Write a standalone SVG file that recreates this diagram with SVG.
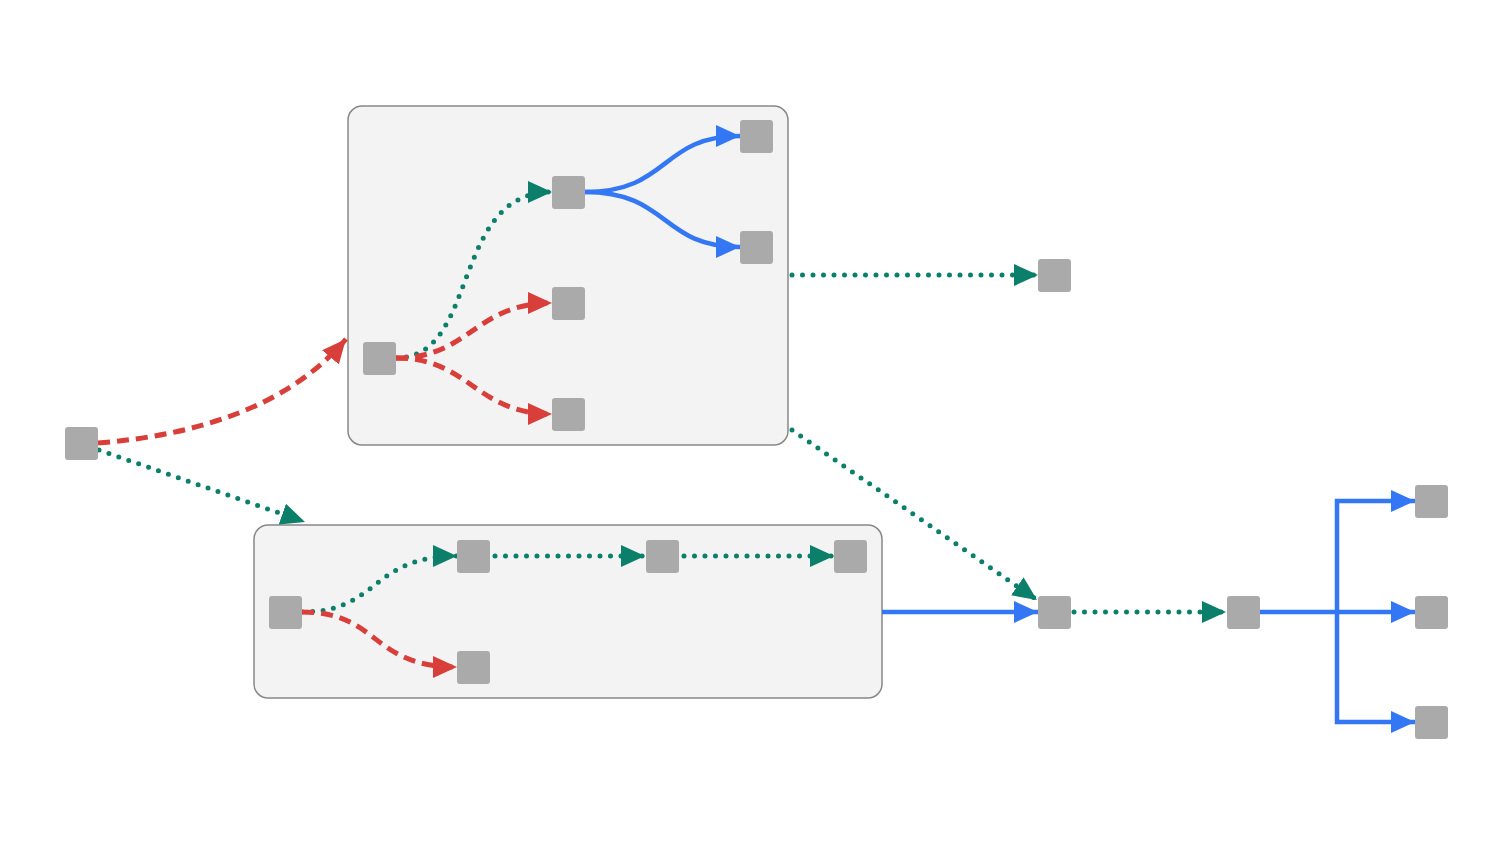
<svg xmlns="http://www.w3.org/2000/svg" width="1500" height="848" viewBox="0 0 1500 848">
<style>
.box{fill:#f3f3f3;stroke:#888;stroke-width:1.5}
.n{fill:#aaa}
.red{fill:none;stroke:#d93f3a;stroke-width:5;stroke-dasharray:12 7;marker-end:url(#mr)}
.grn{fill:none;stroke:#0b7f6a;stroke-width:5;stroke-dasharray:0 10.5;stroke-linecap:round;marker-end:url(#mg)}
.blu{fill:none;stroke:#3377f5;stroke-width:4.5;marker-end:url(#mb)}
.bl{fill:none;stroke:#3377f5;stroke-width:4.5}
</style>
<defs>
<marker id="mr" markerUnits="userSpaceOnUse" markerWidth="26" markerHeight="22" refX="24" refY="11" orient="auto"><path d="M0,0 L24,11 L0,22 Z" fill="#d93f3a"/></marker>
<marker id="mg" markerUnits="userSpaceOnUse" markerWidth="26" markerHeight="22" refX="24" refY="11" orient="auto"><path d="M0,0 L24,11 L0,22 Z" fill="#0b7f6a"/></marker>
<marker id="mb" markerUnits="userSpaceOnUse" markerWidth="26" markerHeight="22" refX="24" refY="11" orient="auto"><path d="M0,0 L24,11 L0,22 Z" fill="#3377f5"/></marker>
</defs>
<g id="group1"><rect class="box" x="348" y="106" width="440" height="339" rx="14"/></g>
<g id="group2"><rect class="box" x="254" y="525" width="628" height="173" rx="14"/></g>
<g id="edges">
<path class="red" d="M98,443 C200,435 290,405 346,339"/>
<path class="grn" d="M99,450 L305,522"/>
<path class="grn" d="M396,358 C480,358 450,192 552,192"/>
<path class="red" d="M396,358 C470,358 475,303 552,303"/>
<path class="red" d="M396,358 C470,358 475,414 552,414"/>
<path class="blu" d="M585,192 C670,192 660,136 740,136"/>
<path class="blu" d="M585,192 C670,192 660,247 740,247"/>
<path class="grn" d="M792,275 L1038,275"/>
<path class="grn" d="M792,430 L1037,600"/>
<path class="blu" d="M882,612 L1038,612"/>
<path class="grn" d="M1074,612 L1226,612"/>
<path class="blu" d="M1260,612 L1415,612"/>
<path class="blu" d="M1337,612 L1337,501 L1415,501"/>
<path class="blu" d="M1337,612 L1337,722 L1415,722"/>
<path class="grn" d="M302,612 C380,612 370,556 457,556"/>
<path class="red" d="M302,612 C380,612 370,667 457,667"/>
<path class="grn" d="M495,556 L645,556"/>
<path class="grn" d="M684,556 L834,556"/>
</g>
<g id="A"><rect class="n" x="65" y="427" width="33" height="33" rx="3"/></g>
<g id="n1"><rect class="n" x="363" y="342" width="33" height="33" rx="3"/></g>
<g id="n2"><rect class="n" x="552" y="176" width="33" height="33" rx="3"/></g>
<g id="n3"><rect class="n" x="740" y="120" width="33" height="33" rx="3"/></g>
<g id="n4"><rect class="n" x="740" y="231" width="33" height="33" rx="3"/></g>
<g id="n5"><rect class="n" x="552" y="287" width="33" height="33" rx="3"/></g>
<g id="n6"><rect class="n" x="552" y="398" width="33" height="33" rx="3"/></g>
<g id="n7"><rect class="n" x="1038" y="259" width="33" height="33" rx="3"/></g>
<g id="m1"><rect class="n" x="269" y="596" width="33" height="33" rx="3"/></g>
<g id="m2"><rect class="n" x="457" y="540" width="33" height="33" rx="3"/></g>
<g id="m3"><rect class="n" x="646" y="540" width="33" height="33" rx="3"/></g>
<g id="m4"><rect class="n" x="834" y="540" width="33" height="33" rx="3"/></g>
<g id="m5"><rect class="n" x="457" y="651" width="33" height="33" rx="3"/></g>
<g id="n8"><rect class="n" x="1038" y="596" width="33" height="33" rx="3"/></g>
<g id="n9"><rect class="n" x="1227" y="596" width="33" height="33" rx="3"/></g>
<g id="n10"><rect class="n" x="1415" y="485" width="33" height="33" rx="3"/></g>
<g id="n11"><rect class="n" x="1415" y="596" width="33" height="33" rx="3"/></g>
<g id="n12"><rect class="n" x="1415" y="706" width="33" height="33" rx="3"/></g>
</svg>
